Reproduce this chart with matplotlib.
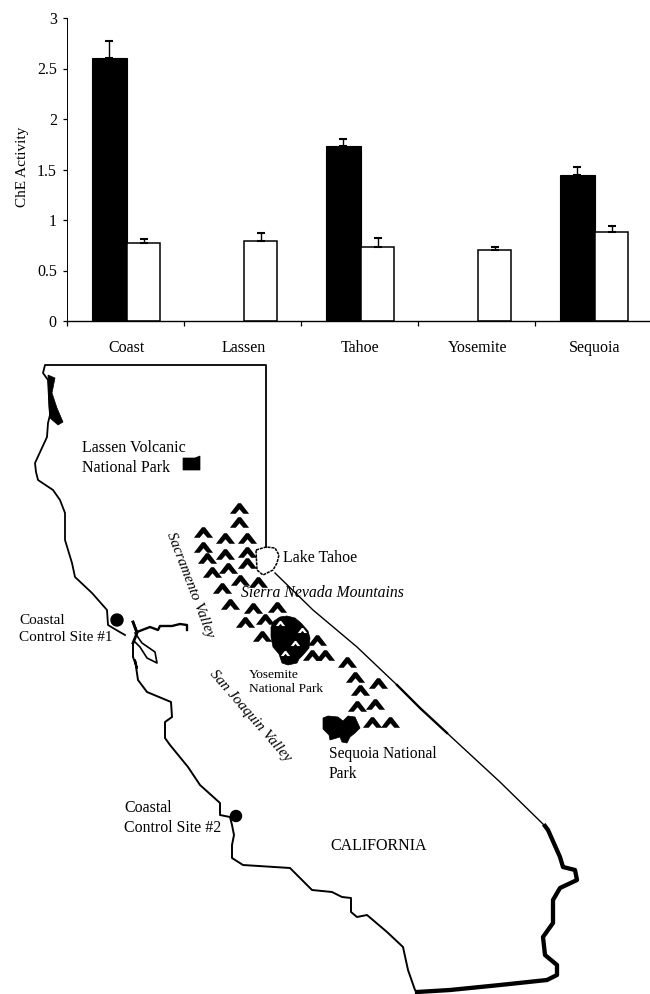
import numpy as np
import matplotlib
matplotlib.use("Agg")
import matplotlib.pyplot as plt
from matplotlib.patches import Polygon, Circle

plt.rcParams['font.family'] = ['Liberation Serif', 'DejaVu Serif']

# bar chart values
sites = ["Coast", "Lassen", "Tahoe", "Yosemite", "Sequoia"]
black_vals = [2.6, np.nan, 1.73, np.nan, 1.45]
black_err = [0.17, np.nan, 0.07, np.nan, 0.07]
white_vals = [0.77, 0.79, 0.73, 0.70, 0.88]
white_err = [0.04, 0.08, 0.09, 0.03, 0.06]
y_ticks = [0, 0.5, 1, 1.5, 2, 2.5, 3]
y_labels = ["0", "0.5", "1", "1.5", "2", "2.5", "3"]

# map outline, in picture pixels
north_x = [266, 266, 45, 43, 48, 50, 48, 47, 41, 35, 36, 38, 53, 60, 65, 65, 72, 75, 92, 107, 108, 118, 125]
north_y = [547, 365, 365, 373, 380, 415, 423, 437, 450, 463, 472, 480, 490, 500, 513, 540, 563, 577, 593, 610, 625, 631, 635]
tahoe_x = [256, 266, 275, 279, 277, 273, 263, 257, 256]
tahoe_y = [550, 547, 548, 555, 563, 570, 575, 570, 550]
east_x = [275, 313, 357, 397]
east_y = [573, 610, 647, 685]
east_mid_x = [397, 420, 447]
east_mid_y = [685, 708, 733]
east_low_x = [447, 500, 545]
east_low_y = [733, 782, 826]
se_x = [545, 548, 560, 563, 575, 577, 560, 553, 553, 543, 545, 557, 557, 547, 500, 450, 417]
se_y = [826, 830, 857, 867, 870, 880, 888, 900, 923, 937, 955, 965, 975, 980, 985, 990, 992]
south_x = [417, 415, 408, 403, 387, 367, 357, 351, 351, 342, 332, 312, 290, 243, 232, 232, 234, 232, 230, 220, 220,
           200, 188, 170, 165, 165, 172, 171, 147, 138, 135, 137, 133, 133]
south_y = [992, 990, 970, 947, 932, 915, 917, 912, 898, 897, 892, 890, 868, 865, 858, 845, 835, 825, 817, 815, 803,
           785, 767, 745, 738, 722, 717, 702, 692, 680, 660, 668, 657, 643]
bay_top_x = [133, 137, 150, 158, 160, 172, 180, 187, 187]
bay_top_y = [622, 632, 627, 630, 626, 626, 624, 625, 630]
bay_low_x = [135, 142, 155, 157, 147, 140, 135]
bay_low_y = [633, 643, 652, 663, 658, 647, 642]
bay_neck_x = [133, 137, 133]
bay_neck_y = [643, 633, 622]

north_coast_x = [48, 55, 52, 57, 63, 58, 50, 49]
north_coast_y = [375, 378, 393, 408, 422, 425, 418, 407]
lassen_x = [183, 195, 200, 200, 183]
lassen_y = [458, 458, 456, 470, 470]
yosemite_x = [271, 274, 280, 287, 295, 301, 308, 310, 309, 303, 299, 297, 288, 282, 279, 273, 271]
yosemite_y = [627, 621, 617, 616, 618, 623, 631, 638, 648, 655, 659, 663, 665, 663, 654, 647, 637]
sequoia_x = [323, 328, 338, 343, 348, 355, 360, 355, 350, 347, 342, 340, 330, 329, 323]
sequoia_y = [718, 716, 717, 721, 716, 717, 728, 733, 737, 743, 742, 737, 740, 735, 729]

peak_x = [239, 239, 203, 225, 247, 203, 247, 225, 207, 228, 247, 212, 240, 258, 222, 230, 253, 277, 245, 265, 262,
          317, 312, 325, 347, 355, 360, 378, 357, 375, 372, 390]
peak_y = [508, 522, 532, 538, 538, 547, 552, 554, 558, 568, 563, 572, 580, 582, 588, 604, 608, 607, 622, 619, 636,
          640, 655, 655, 662, 677, 690, 683, 706, 704, 722, 722]
white_peak_x = [280, 302, 295, 285]
white_peak_y = [623, 630, 643, 653]

site_x = [117, 236]
site_y = [620, 816]

W, H = 650, 994
fig = plt.figure(figsize=(6.5, 9.94), dpi=100)

# bars
ax = fig.add_axes([66.5 / W, 1 - 321 / H, 585 / W, 303 / H])
x = np.arange(5)
cap = dict(ecolor="black", elinewidth=1, capsize=3.2, capthick=1.5)
ax.bar(x - 0.135, black_vals, width=0.3, color="black", edgecolor="black", linewidth=0.8,
       yerr=[np.zeros(5), black_err], error_kw=cap)
ax.bar(x + 0.16, white_vals, width=0.285, color="white", edgecolor="black", linewidth=1.1,
       yerr=[np.zeros(5), white_err], error_kw=cap)
ax.set_xlim(-0.5, 4.5)
ax.set_ylim(0, 3)
ax.set_yticks(y_ticks, labels=y_labels, fontsize=11.5)
ax.set_xticks(np.arange(-0.5, 5), labels=[""] * 6)
ax.set_xticks(x + 0.012, labels=sites, minor=True, fontsize=11.5)
ax.tick_params(axis="x", which="major", length=3.5, width=0.9)
ax.tick_params(axis="x", which="minor", length=0, pad=14)
ax.tick_params(axis="y", length=3, width=0.9, pad=4)
ax.spines["top"].set_visible(False)
ax.spines["right"].set_visible(False)
ax.spines["left"].set_linewidth(0.7)
ax.spines["bottom"].set_linewidth(1)
ax.set_ylabel("ChE Activity", fontsize=11, labelpad=6, y=0.51)

# map, overlay in pixel coords
m = fig.add_axes([0, 0, 1, 1], facecolor="none")
m.set_xlim(0, W)
m.set_ylim(H, 0)
m.axis("off")

m.plot(north_x, north_y, color="black", lw=1.3)
m.plot(tahoe_x, tahoe_y, color="black", lw=1.1, ls=(0, (2, 0.6)))
m.plot(east_x, east_y, color="black", lw=1.0)
m.plot(east_mid_x, east_mid_y, color="black", lw=1.7)
m.plot(east_low_x, east_low_y, color="black", lw=1.0)
m.plot(se_x, se_y, color="black", lw=3.1, solid_joinstyle="round")
m.plot(south_x, south_y, color="black", lw=1.4)
m.plot(bay_top_x, bay_top_y, color="black", lw=1.7)
m.plot(bay_low_x, bay_low_y, color="black", lw=1.2)
m.plot(bay_neck_x, bay_neck_y, color="black", lw=2)

for px, py in [(north_coast_x, north_coast_y), (lassen_x, lassen_y), (yosemite_x, yosemite_y), (sequoia_x, sequoia_y)]:
    m.add_patch(Polygon(np.column_stack([px, py]), closed=True, color="black", lw=0.5))

chevron = [(-1, -0.55), (-0.15, 0.55), (0.15, 0.55), (1, -0.55), (0.4, -0.55), (0, -0.08), (-0.4, -0.55)]
m.scatter(peak_x, peak_y, marker=chevron, s=190, color="black", linewidths=0, zorder=3)
m.scatter(white_peak_x, white_peak_y, marker=chevron, s=45, color="white", linewidths=0, zorder=4)

for sx, sy, r in zip(site_x, site_y, [6, 5.5]):
    m.add_patch(Circle((sx, sy), r, color="black"))

m.text(82, 458, "Lassen Volcanic\nNational Park", fontsize=11.5, va="center", linespacing=1.4)
m.text(19, 629, "Coastal\nControl Site #1", fontsize=11, va="center", linespacing=1.4)
m.text(124, 818, "Coastal\nControl Site #2", fontsize=11.4, va="center", linespacing=1.35)
m.text(283, 558, "Lake Tahoe", fontsize=11.5, va="center")
m.text(241, 593, "Sierra Nevada Mountains", fontsize=11.3, va="center", style="italic")
m.text(190, 585, "Sacramento Valley", fontsize=10.8, ha="center", va="center", style="italic",
       rotation=-69, rotation_mode="anchor")
m.text(250, 716, "San Joaquin Valley", fontsize=11, ha="center", va="center", style="italic",
       rotation=-49, rotation_mode="anchor")
m.text(249, 682, "Yosemite\nNational Park", fontsize=9.6, va="center", linespacing=1.3)
m.text(329, 764, "Sequoia National\nPark", fontsize=11.2, va="center", linespacing=1.4)
m.text(330, 846, "CALIFORNIA", fontsize=11.5, va="center")

fig.savefig("out.png", dpi=100)
